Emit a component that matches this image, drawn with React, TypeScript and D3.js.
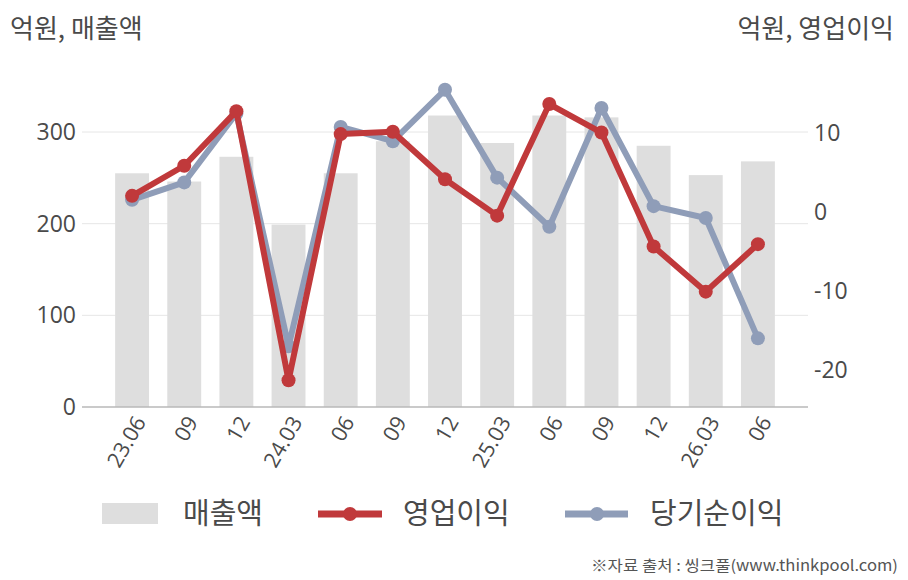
import React from "react";
import * as d3 from "d3";

const categories = ["23.06", "09", "12", "24.03", "06", "09", "12", "25.03", "06", "09", "12", "26.03", "06"];
const sales = [255, 246, 273, 199, 255, 290, 318, 288, 318, 316, 285, 253, 268];
const opProfit = [2.0, 5.8, 12.7, -21.3, 9.8, 10.1, 4.1, -0.5, 13.6, 10.0, -4.4, -10.1, -4.1];
const netProfit = [1.5, 3.7, 12.4, -17.0, 10.7, 8.9, 15.4, 4.3, -1.9, 13.1, 0.7, -0.8, -16.0];
const leftTicks = [0, 100, 200, 300];
const rightTicks = [-20, -10, 0, 10];

const W = 908;
const H = 580;
const FONT = "'Open Sans', 'Noto Sans CJK KR', sans-serif";
const KFONT = "'Noto Sans CJK KR', sans-serif";
const TXT = "#4a4a4a";
const BAR = "#dedede";
const RED = "#c0393b";
const BLUE = "#8f9db8";

export default function App() {
  const plotTop = 86.2;
  const plotBottom = 407;
  const x = d3.scaleBand<string>().domain(categories.map((_, i) => String(i))).range([106, 784]).paddingInner(0.35).paddingOuter(0.175);
  const yL = d3.scaleLinear().domain([0, 350]).range([plotBottom, plotTop]);
  const yR = d3.scaleLinear().domain([-24.67, 15.85]).range([plotBottom, plotTop]);
  const cx = (i: number) => (x(String(i)) as number) + x.bandwidth() / 2;

  const line = (vals: number[]) =>
    d3.line<number>().x((_, i) => cx(i)).y((v) => yR(v))(vals) as string;

  return (
    <svg width={W} height={H} style={{ position: "absolute", left: 0, top: 0, background: "#fff" }}>
      {/* titles */}
      <text x={10} y={38} fontFamily={KFONT} fontSize={26} fill={TXT}>억원, 매출액</text>
      <text x={894} y={38} textAnchor="end" fontFamily={KFONT} fontSize={26} fill={TXT}>억원, 영업이익</text>

      {/* gridlines */}
      {leftTicks.filter((t) => t > 0).map((t) => (
        <line key={t} x1={82} x2={808} y1={yL(t)} y2={yL(t)} stroke="#e6e6e6" strokeWidth={1} />
      ))}

      {/* bars */}
      {sales.map((v, i) => (
        <rect key={i} x={x(String(i))} y={yL(v)} width={x.bandwidth()} height={plotBottom - yL(v)} fill={BAR} />
      ))}

      {/* axis line */}
      <line x1={82} x2={808} y1={plotBottom} y2={plotBottom} stroke="#b8b8b8" strokeWidth={1.5} />

      {/* left ticks */}
      {leftTicks.map((t) => (
        <text key={t} x={76} y={yL(t)} dy="0.35em" textAnchor="end" fontFamily={FONT} fontSize={23} fill={TXT}>{t}</text>
      ))}
      {/* right ticks */}
      {rightTicks.map((t) => (
        <text key={t} x={814} y={yR(t)} dy="0.35em" textAnchor="start" fontFamily={FONT} fontSize={23} fill={TXT}>{t}</text>
      ))}

      {/* x labels */}
      {categories.map((c, i) => (
        <text key={i} transform={`translate(${cx(i) + 8},${418}) rotate(-60)`} textAnchor="end" dy="0.35em" fontFamily={FONT} fontSize={21.5} fill={TXT}>{c}</text>
      ))}

      {/* net profit line */}
      <path d={line(netProfit)} fill="none" stroke={BLUE} strokeWidth={6} strokeLinejoin="round" />
      {netProfit.map((v, i) => (
        <circle key={i} cx={cx(i)} cy={yR(v)} r={7} fill={BLUE} />
      ))}
      {/* operating profit line */}
      <path d={line(opProfit)} fill="none" stroke={RED} strokeWidth={6} strokeLinejoin="round" />
      {opProfit.map((v, i) => (
        <circle key={i} cx={cx(i)} cy={yR(v)} r={7} fill={RED} />
      ))}

      {/* legend */}
      <rect x={102} y={503} width={56} height={21} fill={BAR} />
      <text x={183} y={524} fontFamily={KFONT} fontSize={29} fill={TXT}>매출액</text>
      <line x1={318} x2={382} y1={514} y2={514} stroke={RED} strokeWidth={7} />
      <circle cx={350} cy={514} r={7} fill={RED} />
      <text x={403} y={524} fontFamily={KFONT} fontSize={29} fill={TXT}>영업이익</text>
      <line x1={565} x2={628} y1={514} y2={514} stroke={BLUE} strokeWidth={7} />
      <circle cx={597} cy={514} r={7} fill={BLUE} />
      <text x={650} y={524} fontFamily={KFONT} fontSize={29} fill={TXT}>당기순이익</text>

      {/* source */}
      <text x={898} y={566} dy="0.35em" textAnchor="end" fontFamily={KFONT} fontSize={15} fill="#555" textLength={307} lengthAdjust="spacingAndGlyphs">※자료 출처 : 씽크풀(www.thinkpool.com)</text>
    </svg>
  );
}
